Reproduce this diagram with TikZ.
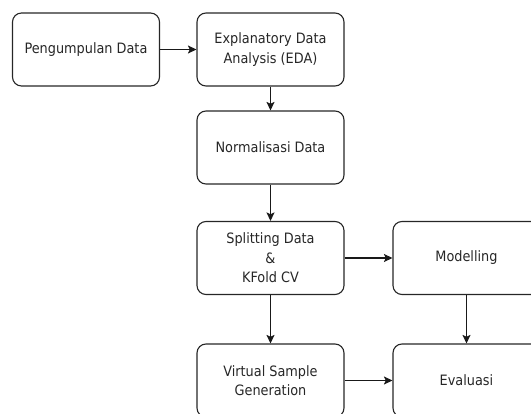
\documentclass[tikz,border=0pt]{standalone}
\usepackage{fontspec}
\setmainfont{DejaVu Sans Condensed}
\usetikzlibrary{arrows.meta}
\begin{document}
\begin{tikzpicture}[x=1pt,y=-1pt,
  flowbox/.style={draw=black!85, rounded corners=9pt, line width=1.1pt,
    minimum width=147pt, minimum height=73pt, align=center, inner sep=0pt,
    text=black!85, font=\fontsize{14.3}{19.5}\selectfont},
  flow/.style={draw=black!90, line width=1.1pt,
    -{Stealth[length=8.5pt,width=8pt,inset=1.8pt]}}]
\useasboundingbox (0,0) rectangle (531,414);
\clip (0,0) rectangle (531,414);

% process steps
\node[flowbox] (collect) at (86,49.5)    {Pengumpulan Data};
\node[flowbox] (eda)     at (270.5,49.5) {Explanatory Data\\Analysis (EDA)};
\node[flowbox] (norm)    at (270.5,147.5) {Normalisasi Data};
\node[flowbox] (split)   at (270.5,258)  {Splitting Data\\\&\\KFold CV};
\node[flowbox] (model)   at (466.5,258)  {Modelling};
\node[flowbox] (vsg)     at (270.5,380.5) {Virtual Sample\\Generation};
\node[flowbox] (eval)    at (466.5,380.5) {Evaluasi};

% connectors
\draw[flow] (collect) -- (eda);
\draw[flow] (eda) -- (norm);
\draw[flow] (norm) -- (split);
\draw[flow] (split) -- (model);
\draw[flow] (split) -- (vsg);
\draw[flow] (model) -- (eval);
\draw[flow] (vsg) -- (eval);
\end{tikzpicture}
\end{document}
